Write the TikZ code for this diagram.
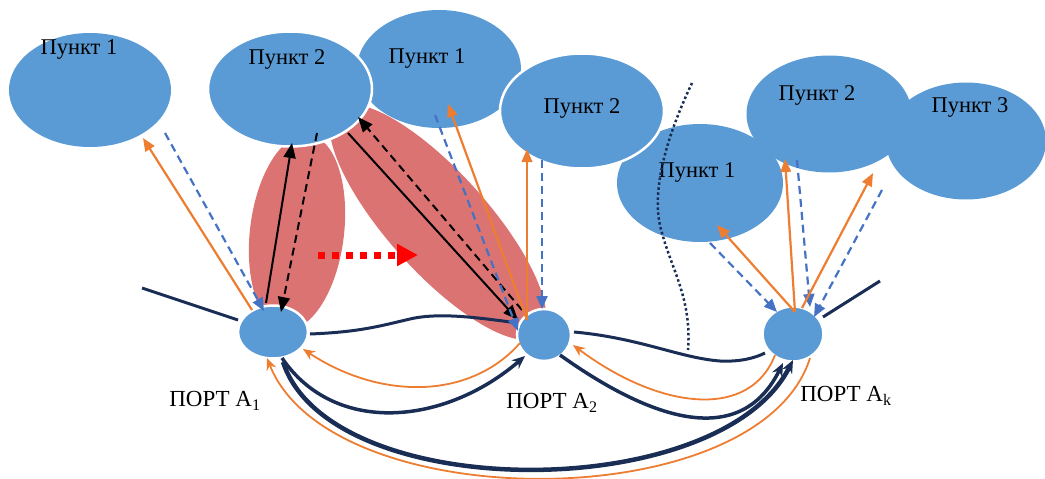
\documentclass[tikz,border=0pt]{standalone}
\usepackage{fontspec}
\setmainfont{Liberation Serif}
\usetikzlibrary{arrows.meta,shapes.geometric}
\definecolor{eblue}{RGB}{91,155,213}
\definecolor{petal}{RGB}{220,115,115}
\definecolor{navy}{RGB}{25,45,85}
\definecolor{orng}{RGB}{237,125,49}
\definecolor{dblue}{RGB}{68,114,196}
\begin{document}
\begin{tikzpicture}[x=1pt,y=-1pt,
  ell/.style={ellipse, fill=eblue, inner sep=0pt},
  wring/.style={draw=white, line width=2.5pt},
  lbl/.style={font=\fontsize{22.5}{24}\selectfont, inner sep=0pt},
  plbl/.style={font=\fontsize{23}{25}\selectfont, inner sep=0pt},
  up/.style={orng, line width=2.2pt, -{Triangle[length=13pt,width=10.5pt]}},
  down/.style={dblue, line width=2.2pt, dash pattern=on 8pt off 5pt, -{Triangle[length=13pt,width=11pt]}},
  blk/.style={black, line width=2pt, -{Triangle[length=15pt,width=12pt]}},
  blkd/.style={blk, dash pattern=on 8pt off 5pt},
  link/.style={navy, line width=3pt},
  flow/.style={navy, line width=3.5pt, -{Stealth[length=13pt,width=11pt]}},
  back/.style={orng, line width=1.8pt, -{Stealth[length=12pt,width=10pt]}},
  move/.style={red, line width=7pt, dash pattern=on 7pt off 7pt, -{Triangle[length=21pt,width=21pt]}},
  sep/.style={navy, line width=2.5pt, dash pattern=on 2.5pt off 2.5pt}
]
\useasboundingbox (0,0) rectangle (1045,479);
% petals
\fill[petal, rotate around={-7:(297,232)}] (297,232) ellipse [x radius=47pt, y radius=98pt];
\fill[petal, rotate around={-48:(438,222)}] (438,222) ellipse [x radius=152pt, y radius=50pt];
% ellipses
\node[ell, minimum width=162pt, minimum height=114pt] (e1) at (90,90) {};
\node[ell, minimum width=164pt, minimum height=118pt] (e3) at (439,69) {};
\node[ell, minimum width=166pt, minimum height=118pt] (e5) at (700,183) {};
\node[ell, minimum width=160pt, minimum height=117pt] (e7) at (966,141) {};
\node[ell, minimum width=165pt, minimum height=117pt] (e6) at (829,114) {};
\node[ell, wring, minimum width=164pt, minimum height=115pt] (e4) at (582,111) {};
\node[ell, wring, minimum width=164pt, minimum height=115pt] (e2) at (290,89) {};
% ports
\node[ell, wring, minimum width=70pt, minimum height=53pt] (a1) at (273,332) {};
\node[ell, wring, minimum width=54pt, minimum height=52pt] (a2) at (544,335) {};
\node[ell, wring, minimum width=61pt, minimum height=55pt] (ak) at (793,334) {};
% texts
\node[lbl] (t1) at (79,50) {Пункт 1};
\node[lbl] (t2) at (287,59) {Пункт 2};
\node[lbl] (t3) at (427,59) {Пункт 1};
\node[lbl] (t4) at (582,108) {Пункт 2};
\node[lbl] (t5) at (697,172) {Пункт 1};
\node[lbl] (t6) at (817,95) {Пункт 2};
\node[lbl] (t7) at (970,107) {Пункт 3};
\node[plbl] (l1) at (215,401) {ПОРТ A\textsubscript{1}};
\node[plbl] (l2) at (552,403) {ПОРТ A\textsubscript{2}};
\node[plbl] (lk) at (846,396) {ПОРТ A\textsubscript{k}};
% coordinates
\coordinate (w1) at (142,288); \coordinate (w2) at (238,320);
\coordinate (w3) at (823,317); \coordinate (w4) at (880,281);
\coordinate (d1) at (692,83); \coordinate (d2) at (662,233); \coordinate (d3) at (688,350);
\coordinate (c1a) at (252,310); \coordinate (c1b) at (143,138);
\coordinate (c1c) at (165,133); \coordinate (c1d) at (264,311);
\coordinate (c1e) at (266,303); \coordinate (c1f) at (292,143);
\coordinate (c1g) at (317,133); \coordinate (c1h) at (281,312);
\coordinate (c2a) at (348,133); \coordinate (c2b) at (518,320);
\coordinate (c2c) at (522,310); \coordinate (c2d) at (358,117);
\coordinate (c2e) at (527,320); \coordinate (c2f) at (448,104);
\coordinate (c2g) at (435,115); \coordinate (c2h) at (518,331);
\coordinate (c2j) at (527,149);
\coordinate (c2k) at (542,160); \coordinate (c2l) at (542,309);
\coordinate (c3a) at (710,243); \coordinate (c3b) at (777,312);
\coordinate (c3c) at (795,312); \coordinate (c3d) at (717,225);
\coordinate (c3f) at (785,159);
\coordinate (c3g) at (797,160); \coordinate (c3h) at (810,307);
\coordinate (c3i) at (802,308); \coordinate (c3j) at (873,173);
\coordinate (c3k) at (882,190); \coordinate (c3l) at (814,317);
\coordinate (r1) at (318,255); \coordinate (r2) at (418,255);
% links
\draw[link] (w1) -- (w2);
\draw[link] (w3) -- (w4);
\draw[link] (310,334) .. controls (360,332) and (380,326) .. (410,319) .. controls (440,312) and (480,318) .. (518,323);
\draw[link] (574,332) .. controls (640,338) and (680,358) .. (720,361) .. controls (740,362) and (755,358) .. (765,353);
\draw[sep] (d1) .. controls (665,140) and (650,195) .. (d2) .. controls (672,270) and (692,300) .. (d3);
% flows between ports
\draw[back] (520,343) .. controls (470,400) and (380,400) .. (303,349);
\draw[flow] (282,358) .. controls (335,436) and (445,425) .. (525,356);
\draw[back] (775,355) .. controls (750,420) and (660,410) .. (573,345);
\draw[flow] (560,355) .. controls (630,405) and (735,460) .. (783,363);
\draw[flow, line width=4.5pt] (283,362) .. controls (330,505) and (720,505) .. (793,360);
\draw[back] (810,358) .. controls (760,518) and (330,518) .. (267,358);
% arrows to points
\draw[up] (c1a) -- (c1b);
\draw[down] (c1c) -- (c1d);
\draw[blk] (c1e) -- (c1f);
\draw[blkd] (c1g) -- (c1h);
\draw[blk] (c2a) -- (c2b);
\draw[blkd] (c2c) -- (c2d);
\draw[up] (c2e) -- (c2f);
\draw[down] (c2g) -- (c2h);
\draw[up] (c2e) -- (c2j);
\draw[down] (c2k) -- (c2l);
\draw[down] (c3a) -- (c3b);
\draw[up] (c3c) -- (c3d);
\draw[up] (c3c) -- (c3f);
\draw[down] (c3g) -- (c3h);
\draw[up] (c3i) -- (c3j);
\draw[down] (c3k) -- (c3l);
\draw[move] (r1) -- (r2);
\end{tikzpicture}
\end{document}
